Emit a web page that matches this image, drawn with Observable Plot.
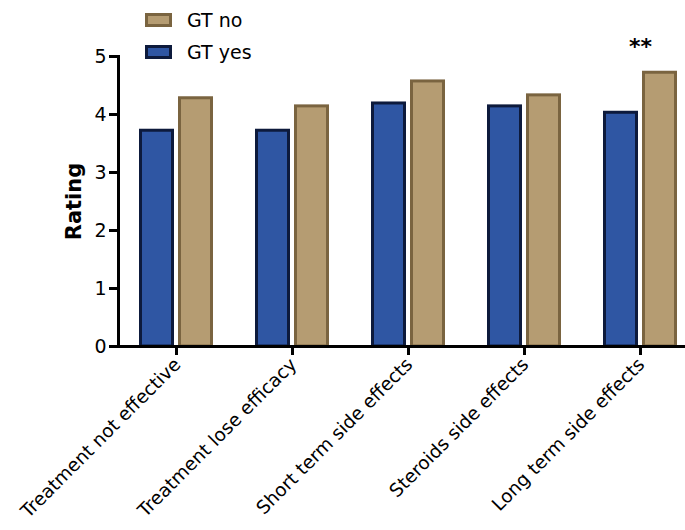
<!DOCTYPE html>
<html><head><meta charset="utf-8">
<script src="https://cdn.jsdelivr.net/npm/d3@7"></script>
<script src="https://cdn.jsdelivr.net/npm/@observablehq/plot@0.6"></script>
<style>
body{margin:0;background:#fff;font-family:"DejaVu Sans",Verdana,sans-serif;}
#wrap{position:relative;width:685px;height:530px;overflow:hidden;}
#legend{position:absolute;left:145px;top:0;font-size:19px;color:#000;}
.row{position:absolute;left:0;display:flex;align-items:center;height:22px;white-space:nowrap;}
.sw{display:inline-block;width:21px;height:8px;border:3px solid;margin-right:15px;}
#chart{position:absolute;left:0;top:0;width:700px;}
#chart svg{max-width:none !important;}
</style></head><body><div id="wrap"><div id="chart"></div><div id="legend"></div></div>
<script>
const categories = ["Treatment not effective","Treatment lose efficacy","Short term side effects","Steroids side effects","Long term side effects"];
const gtYes = [3.72, 3.72, 4.19, 4.14, 4.03];
const gtNo = [4.28, 4.14, 4.57, 4.33, 4.72];
const yTicks = [0, 1, 2, 3, 4, 5];
const legendLabels = ["GT no", "GT yes"];
const fills = {"GT yes": "#2f56a3", "GT no": "#b59c72"};
const strokes = {"GT yes": "#0d1a3c", "GT no": "#7a6440"};
const annotations = [{category: "Long term side effects", label: "**", value: 4.72}];

const yesRows = categories.map((c, i) => ({category: c, value: gtYes[i]}));
const noRows = categories.map((c, i) => ({category: c, value: gtNo[i]}));

const font = "DejaVu Sans, Verdana, sans-serif";
const chart = Plot.plot({
  width: 700, height: 530,
  marginLeft: 118, marginRight: 2, marginTop: 56, marginBottom: 184,
  style: {fontFamily: font, color: "#000", background: "transparent", overflow: "visible"},
  x: {domain: categories, padding: 0},
  y: {domain: [0, 5]},
  marks: [
    Plot.barY(yesRows, {x: "category", y: "value", fill: fills["GT yes"], stroke: strokes["GT yes"], strokeWidth: 3, insetLeft: 22.5, insetRight: 61.5}),
    Plot.barY(noRows, {x: "category", y: "value", fill: fills["GT no"], stroke: strokes["GT no"], strokeWidth: 3, insetLeft: 61.5, insetRight: 22.5}),
    Plot.ruleY([0], {strokeWidth: 3, stroke: "#000"}),
    Plot.frame({anchor: "left", strokeWidth: 3, stroke: "#000"}),
    Plot.axisY({ticks: yTicks, tickFormat: d => String(d), tickSize: 9, strokeWidth: 3, fontSize: 19, tickPadding: 3, label: null}),
    Plot.axisY({ticks: [], label: "Rating", labelAnchor: "center", labelArrow: "none", labelOffset: 52, fontSize: 21, fontWeight: "bold"}),
    Plot.axisX({ticks: categories, tickSize: 9, strokeWidth: 3, text: null, label: null}),
    Plot.axisX({tickRotate: -45, tickSize: 0, fontSize: 18.5, tickPadding: 15, dx: 1, label: null}),
    Plot.text(annotations, {x: "category", y: "value", text: "label", dy: -26, fontSize: 22, fontWeight: "bold", fill: "#000"})
  ]
});
document.getElementById("chart").appendChild(chart);

const legend = document.getElementById("legend");
legendLabels.forEach((g, i) => {
  const row = document.createElement("div");
  row.className = "row";
  row.style.top = (9 + i * 32) + "px";
  const sw = document.createElement("span");
  sw.className = "sw";
  sw.style.background = fills[g];
  sw.style.borderColor = strokes[g];
  row.appendChild(sw);
  row.appendChild(document.createTextNode(g));
  legend.appendChild(row);
});
</script></body></html>
